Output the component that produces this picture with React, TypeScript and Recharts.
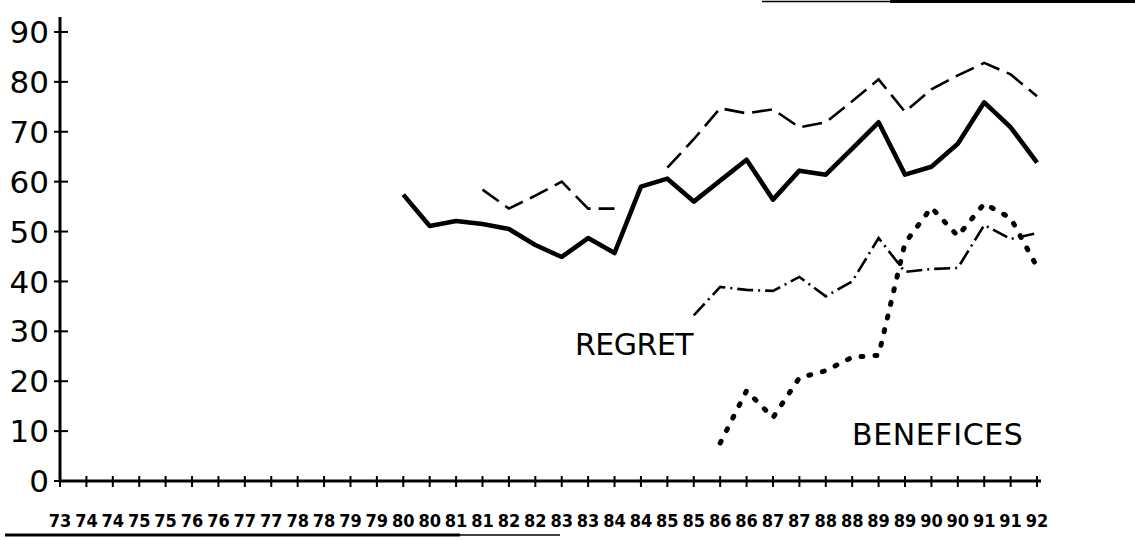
import React from 'react';
import { LineChart, Line, XAxis, YAxis } from 'recharts';

// Half-year periods shown on the x axis
const periodLabels = [
  '73', '74', '74', '75', '75', '76', '76', '77', '77', '78', '78', '79', '79',
  '80', '80', '81', '81', '82', '82', '83', '83', '84', '84', '85', '85', '86',
  '86', '87', '87', '88', '88', '89', '89', '90', '90', '91', '91', '92',
];

const yTicks = [0, 10, 20, 30, 40, 50, 60, 70, 80, 90];

const N = null;

// Thick solid series
const solidSeries = [
  N, N, N, N, N, N, N, N, N, N, N, N, N,
  57.4, 51.1, 52.1, 51.5, 50.5, 47.3, 44.9, 48.7, 45.7, 59, 60.6, 56,
  60.2, 64.4, 56.4, 62.2, 61.4, 66.6, 71.9, 61.4, 63, 67.6, 75.9, 70.9, 63.8,
];

// Upper long-dashed series
const dashedSeries = [
  N, N, N, N, N, N, N, N, N, N, N, N, N, N, N, N,
  58.4, 54.6, 57.2, 60, 54.6, 54.6, N,
  62.8, 68.5, 74.7, 73.7, 74.5, 70.9, 71.9, 76.1, 80.5, 74, 78.5, 81.3, 83.8, 81.5, 77.1,
];

// REGRET (dash-dot) series
const regretSeries = [
  N, N, N, N, N, N, N, N, N, N, N, N, N, N, N, N, N, N, N, N, N, N, N, N,
  33.2, 38.9, 38.3, 38.1, 40.9, 37, 40, 48.7, 41.9, 42.5, 42.7, 51.3, 48.5, 49.7,
];

// BENEFICES (dotted) series
const beneficesSeries = [
  N, N, N, N, N, N, N, N, N, N, N, N, N, N, N, N, N, N, N, N, N, N, N, N, N,
  7.6, 18.1, 12.7, 20.7, 22.1, 24.8, 25.2, 47.7, 54.8, 49.1, 55.6, 52.7, 42.9,
];

const tickIdx = periodLabels.map((_, i) => i);

const chartData = periodLabels.map((label, i) => ({
  idx: i,
  label,
  solid: solidSeries[i],
  dashed: dashedSeries[i],
  regret: regretSeries[i],
  benefices: beneficesSeries[i],
}));

const XTick = (props: any) => {
  const { x, y, payload } = props;
  const label = periodLabels[payload.value] ?? '';
  return (
    <g>
      <line x1={x} x2={x} y1={y - 5} y2={y + 6} stroke="#000" strokeWidth={2} />
      <text
        x={x}
        y={y + 46}
        textAnchor="middle"
        fontFamily="'DejaVu Sans Condensed', 'DejaVu Sans', sans-serif"
        fontWeight="bold"
        fontSize={18}
        style={{ fontStretch: 'condensed' }}
        fill="#000"
      >
        {label}
      </text>
    </g>
  );
};

const YTick = (props: any) => {
  const { x, y, payload } = props;
  return (
    <g>
      <line x1={x - 6} x2={x + 8} y1={y} y2={y} stroke="#000" strokeWidth={2} />
      <text
        x={x - 11}
        y={y}
        dy="0.36em"
        textAnchor="end"
        fontFamily="'DejaVu Sans', sans-serif"
        fontSize={31}
        fill="#000"
      >
        {payload.value}
      </text>
    </g>
  );
};

export default function App() {
  return (
    <div
      style={{
        position: 'absolute',
        left: 0,
        top: 0,
        width: 1135,
        height: 540,
        background: '#fff',
        overflow: 'hidden',
      }}
    >
      <LineChart
        width={1135}
        height={540}
        data={chartData}
        margin={{ top: 17, right: 94, bottom: 0, left: 0 }}
      >
        <XAxis
          dataKey="idx"
          type="number"
          domain={[0, 37.15]}
          ticks={tickIdx}
          interval={0}
          tickSize={0}
          tickMargin={0}
          tickLine={false}
          axisLine={{ stroke: '#000', strokeWidth: 3 }}
          tick={<XTick />}
          height={59}
          allowDataOverflow
        />
        <YAxis
          type="number"
          domain={[0, 93]}
          ticks={yTicks}
          interval={0}
          tickSize={0}
          tickMargin={0}
          tickLine={false}
          axisLine={{ stroke: '#000', strokeWidth: 3 }}
          tick={<YTick />}
          width={60}
          allowDataOverflow
        />
        <Line
          type="linear"
          dataKey="dashed"
          stroke="#000"
          strokeWidth={2.6}
          strokeDasharray="20 8"
          dot={false}
          activeDot={false}
          isAnimationActive={false}
        />
        <Line
          type="linear"
          dataKey="regret"
          stroke="#000"
          strokeWidth={2.6}
          strokeDasharray="16 5 2 5"
          dot={false}
          activeDot={false}
          isAnimationActive={false}
        />
        <Line
          type="linear"
          dataKey="benefices"
          stroke="#000"
          strokeWidth={5}
          strokeLinecap="round"
          strokeDasharray="2 12"
          dot={false}
          activeDot={false}
          isAnimationActive={false}
        />
        <Line
          type="linear"
          dataKey="solid"
          stroke="#000"
          strokeWidth={4.6}
          strokeLinejoin="round"
          dot={false}
          activeDot={false}
          isAnimationActive={false}
        />
      </LineChart>
      <svg
        width={1135}
        height={540}
        style={{ position: 'absolute', left: 0, top: 0, pointerEvents: 'none' }}
      >
        <text
          x={575}
          y={355}
          fontFamily="'DejaVu Sans', sans-serif"
          fontSize={30}
          letterSpacing={-0.5}
          fill="#000"
        >
          REGRET
        </text>
        <text
          x={852}
          y={445}
          fontFamily="'DejaVu Sans', sans-serif"
          fontSize={30}
          letterSpacing={0.6}
          fill="#000"
        >
          BENEFICES
        </text>
        <line x1={762} x2={890} y1={1.5} y2={1.5} stroke="#000" strokeWidth={1.5} />
        <line x1={890} x2={1135} y1={1.5} y2={1.5} stroke="#000" strokeWidth={3} />
        <line x1={5} x2={460} y1={535} y2={535} stroke="#000" strokeWidth={3} />
        <line x1={460} x2={560} y1={535} y2={535} stroke="#000" strokeWidth={1.5} />
      </svg>
    </div>
  );
}
